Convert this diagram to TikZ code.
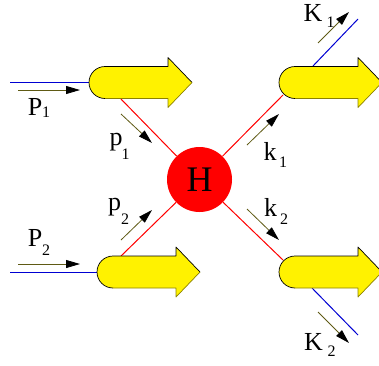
\documentclass[tikz,border=0pt]{standalone}
\usepackage{fontspec}
\setmainfont{Liberation Serif}
\usetikzlibrary{arrows.meta}
\definecolor{olivel}{RGB}{95,90,20}
\definecolor{blobedge}{RGB}{140,130,0}
\definecolor{blueline}{RGB}{0,0,210}
\begin{document}
\begin{tikzpicture}[x=1pt,y=-1pt,
  mom/.style={draw=olivel,line width=0.8pt,-{Triangle[length=14pt,width=8pt,color=black]}},
  redline/.style={draw=red,line width=1pt},
  blueln/.style={draw=blueline,line width=1pt},
  big/.style={font=\fontsize{26}{26}\selectfont,inner sep=0pt},
  sub/.style={font=\fontsize{16}{16}\selectfont,inner sep=0pt},
  hbox/.style={circle,fill=red,minimum size=65pt,inner sep=0pt,font=\fontsize{36}{36}\selectfont},
  pics/blob/.style={code={
    \fill[yellow] (16,16) arc[start angle=90,end angle=270,radius=16] -- (79,-16) -- (79,-25) -- (103,0) -- (79,25) -- (79,16) -- cycle;
    \draw[black,line width=0.7pt,line join=round] (16,16) arc[start angle=90,end angle=270,radius=16] -- (79,-16) -- (79,-25) -- (103,0);
    \draw[blobedge,line width=0.7pt,line join=round] (103,0) -- (79,25) -- (79,16) -- (16,16);
  }}]
\useasboundingbox (0,0) rectangle (379,365);
\node[hbox] (H) at (199.5,179.5) {H};
% connection points
\coordinate (c1) at (120,98);
\coordinate (c2) at (121,256);
\coordinate (c3) at (283,95);
\coordinate (c4) at (283,260);
\coordinate (b1l) at (89,82.5);
\coordinate (b2l) at (97,272);
\coordinate (in1) at (10,82.5);
\coordinate (in2) at (10,272);
\coordinate (o1s) at (313,66);
\coordinate (o1e) at (358,19);
\coordinate (o2s) at (312,288);
\coordinate (o2e) at (358,335);
% lines
\draw[redline] (c1) -- (H);
\draw[redline] (c2) -- (H);
\draw[redline] (H) -- (c3);
\draw[redline] (H) -- (c4);
\draw[blueln] (in1) -- (b1l);
\draw[blueln] (in2) -- (b2l);
\draw[blueln] (o1s) -- (o1e);
\draw[blueln] (o2s) -- (o2e);
% blobs
\pic at (89,82.5) {blob};
\pic at (97,272) {blob};
\pic at (279,82.5) {blob};
\pic at (279,272) {blob};
% momentum arrows
\coordinate (P1a) at (18,90); \coordinate (P1b) at (80,90);
\coordinate (P2a) at (18,264); \coordinate (P2b) at (80,264);
\coordinate (p1a) at (121,114); \coordinate (p1b) at (152,143);
\coordinate (p2a) at (121,240); \coordinate (p2b) at (152,210);
\coordinate (k1a) at (247,145); \coordinate (k1b) at (279,114);
\coordinate (k2a) at (247,209); \coordinate (k2b) at (279,240);
\coordinate (K1a) at (318,43); \coordinate (K1b) at (349,12);
\coordinate (K2a) at (318,312); \coordinate (K2b) at (349,343);
\draw[mom] (P1a) -- (P1b);
\draw[mom] (P2a) -- (P2b);
\draw[mom] (p1a) -- (p1b);
\draw[mom] (p2a) -- (p2b);
\draw[mom] (k1a) -- (k1b);
\draw[mom] (k2a) -- (k2b);
\draw[mom] (K1a) -- (K1b);
\draw[mom] (K2a) -- (K2b);
% labels
\node[big] (lP1) at (35,106.5) {P};
\node[sub] (sP1) at (46,112) {1};
\node[big] (lP2) at (35,238) {P};
\node[sub] (sP2) at (46,250) {2};
\node[big] (lp1) at (116,142.5) {p};
\node[sub] (sp1) at (125.5,154) {1};
\node[big] (lp2) at (114.5,207) {p};
\node[sub] (sp2) at (125,219) {2};
\node[big] (lk1) at (270,151) {k};
\node[sub] (sk1) at (283,162.5) {1};
\node[big] (lk2) at (270.5,207.5) {k};
\node[sub] (sk2) at (284,219) {2};
\node[big] (lK1) at (313,12.5) {K};
\node[sub] (sK1) at (330.5,22) {1};
\node[big] (lK2) at (313.5,341.5) {K};
\node[sub] (sK2) at (331.5,351.5) {2};
\end{tikzpicture}
\end{document}
